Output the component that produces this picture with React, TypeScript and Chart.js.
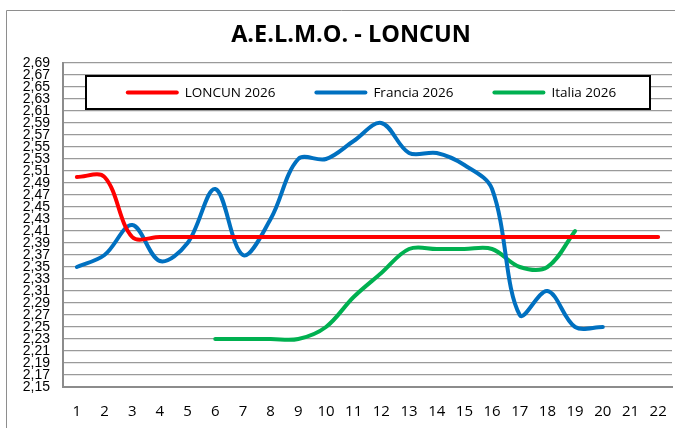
import React, { useEffect, useRef } from "react";
import { Chart, registerables } from "chart.js";

Chart.register(...registerables);

const TITLE = "A.E.L.M.O. - LONCUN";
const X_LABELS = ["1","2","3","4","5","6","7","8","9","10","11","12","13","14","15","16","17","18","19","20","21","22"];
const Y_TICKS = [2.15,2.17,2.19,2.21,2.23,2.25,2.27,2.29,2.31,2.33,2.35,2.37,2.39,2.41,2.43,2.45,2.47,2.49,2.51,2.53,2.55,2.57,2.59,2.61,2.63,2.65,2.67,2.69];
const LONCUN_2026 = [2.50,2.50,2.40,2.40,2.40,2.40,2.40,2.40,2.40,2.40,2.40,2.40,2.40,2.40,2.40,2.40,2.40,2.40,2.40,2.40,2.40,2.40];
const FRANCIA_2026 = [2.35,2.37,2.42,2.36,2.39,2.48,2.37,2.43,2.53,2.53,2.56,2.59,2.54,2.54,2.52,2.48,2.27,2.31,2.25,2.25];
const ITALIA_2026 = [null,null,null,null,null,2.23,2.23,2.23,2.23,2.25,2.30,2.34,2.38,2.38,2.38,2.38,2.35,2.35,2.41];
const SERIES_NAMES = ["LONCUN 2026","Francia 2026","Italia 2026"];
const SERIES_COLORS = ["#FF0000","#0070C0","#00B050"];

const decorPlugin = {
  id: "decor",
  afterDraw(chart: any) {
    const ctx = chart.ctx;
    ctx.save();
    // outer frame
    ctx.strokeStyle = "#8e8e8e";
    ctx.lineWidth = 1;
    ctx.beginPath();
    ctx.moveTo(6.5, 440);
    ctx.lineTo(6.5, 10.5);
    ctx.lineTo(690, 10.5);
    ctx.stroke();
    // title
    ctx.fillStyle = "#000";
    ctx.font = "bold 23.5px 'Open Sans'";
    ctx.textAlign = "center";
    ctx.textBaseline = "alphabetic";
    ctx.fillText(TITLE, 351, 42);
    // legend box
    const bx = 86, by = 76, bw = 564, bh = 33;
    ctx.fillStyle = "#fff";
    ctx.fillRect(bx, by, bw, bh);
    ctx.strokeStyle = "#000";
    ctx.lineWidth = 2;
    ctx.strokeRect(bx, by, bw, bh);
    ctx.font = "13.5px 'Open Sans'";
    const lineLen = 53, gap = 6, spacing = 39;
    const widths = SERIES_NAMES.map((n) => ctx.measureText(n).width);
    const total = widths.reduce((a, w) => a + lineLen + gap + w, 0) + spacing * (SERIES_NAMES.length - 1);
    let x = 371 - total / 2;
    const cy = 92.5;
    SERIES_NAMES.forEach((name, i) => {
      ctx.strokeStyle = SERIES_COLORS[i];
      ctx.lineWidth = 4;
      ctx.lineCap = "round";
      ctx.beginPath();
      ctx.moveTo(x + 2, cy);
      ctx.lineTo(x + lineLen - 2, cy);
      ctx.stroke();
      ctx.fillStyle = "#000";
      ctx.textAlign = "left";
      ctx.textBaseline = "middle";
      ctx.fillText(name, x + lineLen + gap, cy + 1);
      x += lineLen + gap + widths[i] + spacing;
    });
    ctx.restore();
  },
};

export default function App() {
  const ref = useRef<HTMLCanvasElement>(null);
  useEffect(() => {
    const mk = (label: string, data: any[], color: string) => ({
      label,
      data,
      borderColor: color,
      backgroundColor: color,
      borderWidth: 4,
      pointRadius: 0,
      pointHoverRadius: 0,
      tension: 0.35,
      borderCapStyle: "round" as const,
      borderJoinStyle: "round" as const,
      spanGaps: false,
      fill: false,
    });
    const chart = new Chart(ref.current!, {
      type: "line",
      data: {
        labels: X_LABELS,
        datasets: [
          mk(SERIES_NAMES[0], LONCUN_2026, SERIES_COLORS[0]),
          mk(SERIES_NAMES[1], FRANCIA_2026, SERIES_COLORS[1]),
          mk(SERIES_NAMES[2], ITALIA_2026, SERIES_COLORS[2]),
        ],
      },
      options: {
        responsive: false,
        animation: false,
        devicePixelRatio: 1,
        layout: { padding: { top: 63, left: 0, right: 3, bottom: 0 } },
        plugins: { legend: { display: false }, title: { display: false }, tooltip: { enabled: false } },
        scales: {
          x: {
            type: "category",
            offset: true,
            grid: { display: false, drawTicks: false },
            border: { display: true, color: "#8c8c8c", width: 2 },
            ticks: { color: "#000", font: { family: "'Open Sans'", size: 15 }, padding: 16, maxRotation: 0, autoSkip: false },
            afterFit: (s: any) => { s.height = 41; s.paddingLeft = 0; s.paddingRight = 0; },
          },
          y: {
            type: "linear",
            min: 2.15,
            max: 2.69,
            afterBuildTicks: (s: any) => { s.ticks = Y_TICKS.map((v) => ({ value: v })); },
            grid: { color: "#9a9a9a", lineWidth: 1.3, drawTicks: false },
            border: { display: true, color: "#8c8c8c", width: 2 },
            ticks: {
              color: "#000",
              autoSkip: false,
              font: { family: "'Liberation Sans'", size: 14, lineHeight: 1 },
              padding: 13,
              callback: (v: any) => Number(v).toFixed(2).replace(".", ","),
            },
            afterFit: (s: any) => { s.width = 63; s.paddingTop = 0; s.paddingBottom = 0; },
          },
        },
      },
      plugins: [decorPlugin],
    });
    return () => chart.destroy();
  }, []);
  return (
    <div style={{ position: "absolute", left: 0, top: 0, width: 675, height: 428, background: "#fff" }}>
      <canvas ref={ref} width={675} height={428} style={{ display: "block" }} />
    </div>
  );
}
